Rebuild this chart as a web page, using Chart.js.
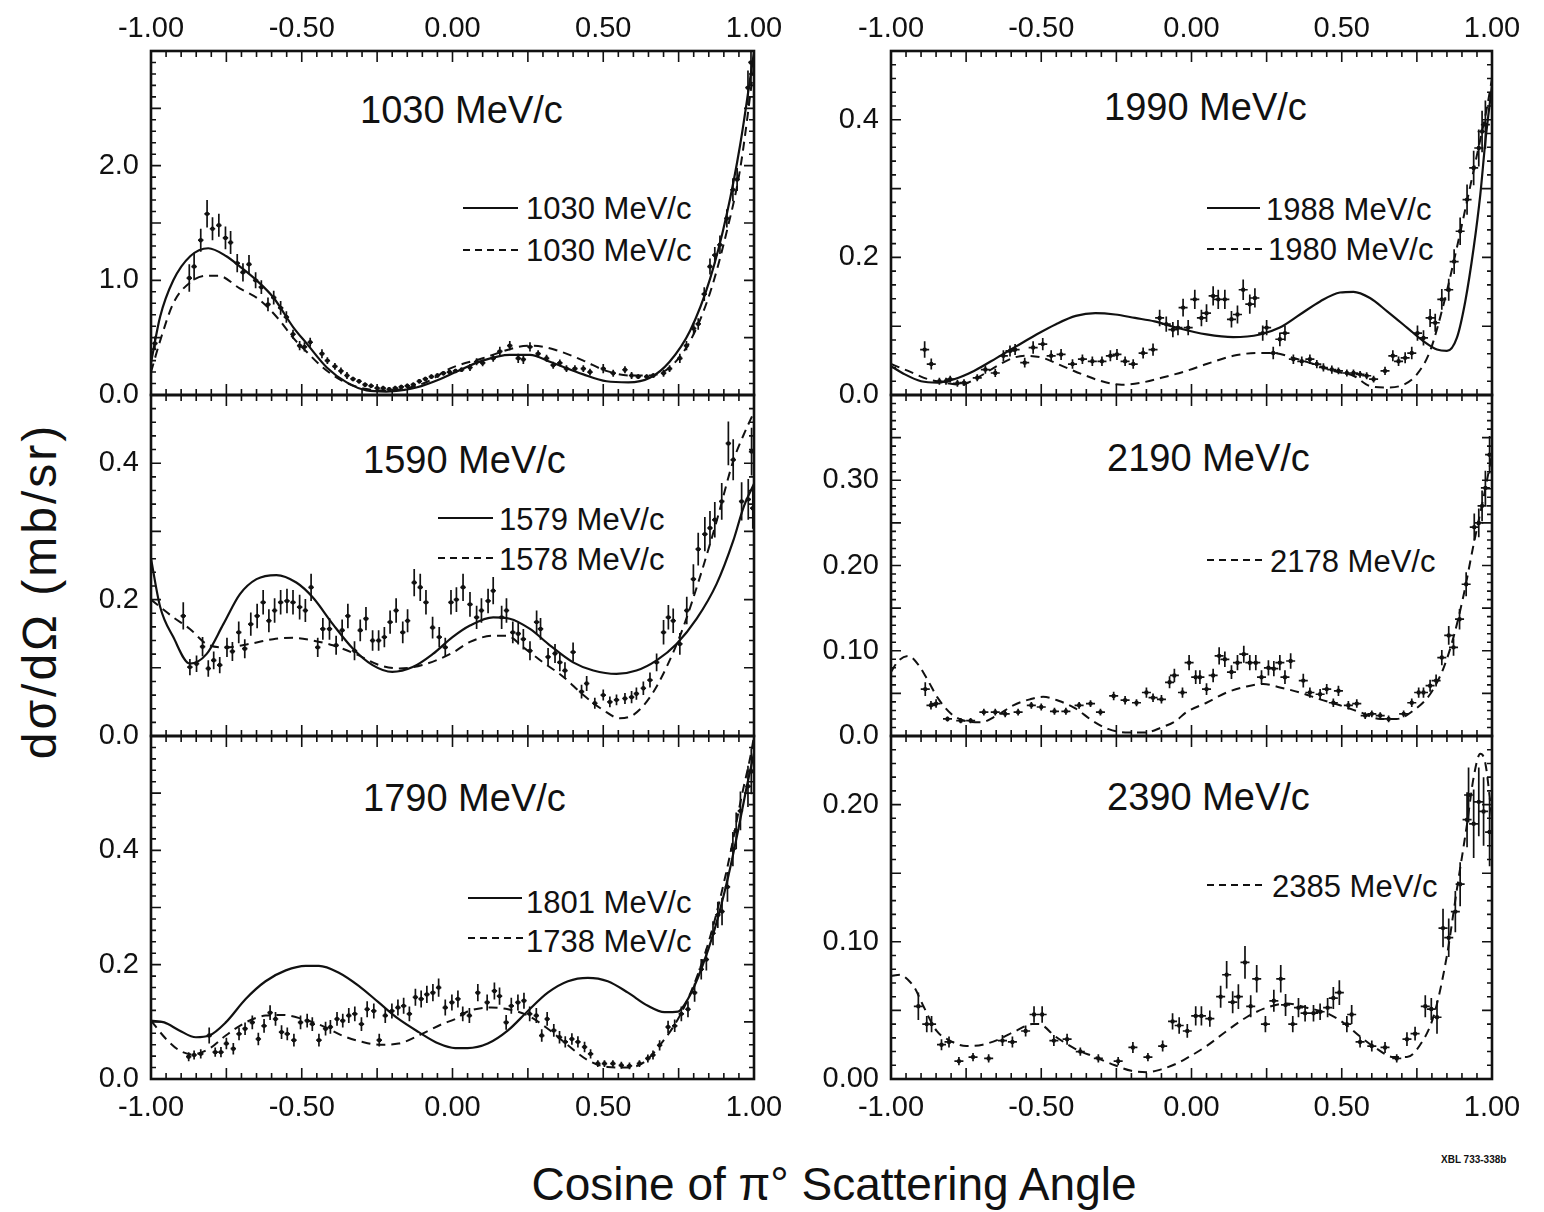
<!DOCTYPE html>
<html><head><meta charset="utf-8">
<script src="https://cdn.jsdelivr.net/npm/chart.js@4.4.1/dist/chart.umd.min.js"></script>
<style>
html,body{margin:0;padding:0;background:#fff}
#wrap{position:relative;width:1544px;height:1212px;overflow:hidden;background:#fff}
canvas{position:absolute}
.t{position:absolute;white-space:nowrap;color:#111;font-family:"Liberation Sans",Arial,sans-serif;line-height:1}
svg{position:absolute;left:0;top:0}
</style></head><body><div id="wrap">
<svg width="1544" height="1212">
 <g stroke="#111" stroke-width="2.2" fill="none">
  <line x1="463" y1="208" x2="518" y2="208"/>
  <line x1="463" y1="250" x2="522" y2="250" stroke-dasharray="7 5"/>
  <line x1="438" y1="518" x2="493" y2="518"/>
  <line x1="438" y1="558" x2="493" y2="558" stroke-dasharray="7 5"/>
  <line x1="468" y1="898" x2="522" y2="898"/>
  <line x1="468" y1="938" x2="528" y2="938" stroke-dasharray="7 5"/>
  <line x1="1207" y1="208" x2="1260" y2="208"/>
  <line x1="1207" y1="249" x2="1267" y2="249" stroke-dasharray="7 5"/>
  <line x1="1207" y1="560" x2="1265" y2="560" stroke-dasharray="7 5"/>
  <line x1="1207" y1="885" x2="1267" y2="885" stroke-dasharray="7 5"/>
 </g>
</svg>
<div class="t" style="font-size:38px;left:360px;top:91px">1030 MeV/c</div>
<div class="t" style="font-size:38px;left:363px;top:441px">1590 MeV/c</div>
<div class="t" style="font-size:38px;left:363px;top:779px">1790 MeV/c</div>
<div class="t" style="font-size:38px;left:1104px;top:88px">1990 MeV/c</div>
<div class="t" style="font-size:38px;left:1107px;top:439px">2190 MeV/c</div>
<div class="t" style="font-size:38px;left:1107px;top:778px">2390 MeV/c</div>
<div class="t" style="font-size:31px;left:526px;top:193px">1030 MeV/c</div>
<div class="t" style="font-size:31px;left:526px;top:235px">1030 MeV/c</div>
<div class="t" style="font-size:31px;left:499px;top:504px">1579 MeV/c</div>
<div class="t" style="font-size:31px;left:499px;top:544px">1578 MeV/c</div>
<div class="t" style="font-size:31px;left:526px;top:887px">1801 MeV/c</div>
<div class="t" style="font-size:31px;left:526px;top:926px">1738 MeV/c</div>
<div class="t" style="font-size:31px;left:1266px;top:194px">1988 MeV/c</div>
<div class="t" style="font-size:31px;left:1268px;top:234px">1980 MeV/c</div>
<div class="t" style="font-size:31px;left:1270px;top:546px">2178 MeV/c</div>
<div class="t" style="font-size:31px;left:1272px;top:871px">2385 MeV/c</div>
<div class="t" style="font-size:46px;left:834px;top:1161px;transform:translateX(-50%)">Cosine of π° Scattering Angle</div>
<div class="t" style="font-size:48px;left:40px;top:591px;letter-spacing:3px;transform:translate(-50%,-50%) rotate(-90deg)">dσ/dΩ (mb/sr)</div>
<div class="t" style="font-size:10px;font-weight:bold;left:1441px;top:1155px">XBL 733-338b</div>
</div>
<script>
// ---------- DATA ----------
const xTickValues = [-1, -0.5, 0, 0.5, 1];
const xTickLabels = ['-1.00', '-0.50', '0.00', '0.50', '1.00'];

// 1030 MeV/c  [cos, dsigma, err]
const tl_pts = [[-0.987,0.45,0.06],[-0.873,1.02,0.12],[-0.857,1.12,0.12],[-0.835,1.35,0.1],[-0.814,1.58,0.12],[-0.796,1.45,0.1],[-0.775,1.48,0.1],[-0.753,1.37,0.1],[-0.736,1.33,0.1],[-0.714,1.15,0.08],[-0.695,1.07,0.08],[-0.675,1.14,0.08],[-0.653,1.0,0.07],[-0.634,0.94,0.06],[-0.612,0.79,0.06],[-0.593,0.85,0.06],[-0.57,0.76,0.06],[-0.551,0.68,0.05],[-0.529,0.53,0.04],[-0.507,0.43,0.04],[-0.491,0.42,0.04],[-0.472,0.46,0.04],[-0.433,0.36,0.04],[-0.415,0.30,0.03],[-0.39,0.25,0.03],[-0.37,0.21,0.03],[-0.35,0.17,0.03],[-0.33,0.14,0.02],[-0.31,0.12,0.02],[-0.29,0.09,0.02],[-0.27,0.08,0.02],[-0.25,0.06,0.02],[-0.23,0.06,0.02],[-0.21,0.05,0.02],[-0.19,0.06,0.02],[-0.17,0.07,0.02],[-0.15,0.08,0.02],[-0.13,0.09,0.02],[-0.11,0.12,0.02],[-0.09,0.14,0.02],[-0.07,0.16,0.02],[-0.05,0.17,0.02],[-0.03,0.19,0.02],[-0.01,0.2,0.02],[0.01,0.21,0.02],[0.03,0.22,0.02],[0.058,0.24,0.03],[0.08,0.29,0.03],[0.10,0.28,0.03],[0.135,0.32,0.03],[0.157,0.38,0.04],[0.19,0.43,0.04],[0.218,0.32,0.04],[0.235,0.31,0.04],[0.257,0.42,0.04],[0.284,0.36,0.03],[0.312,0.32,0.03],[0.334,0.26,0.03],[0.356,0.28,0.03],[0.378,0.23,0.03],[0.406,0.23,0.03],[0.434,0.23,0.03],[0.456,0.2,0.03],[0.50,0.23,0.04],[0.533,0.19,0.03],[0.572,0.22,0.03],[0.594,0.17,0.03],[0.616,0.16,0.02],[0.644,0.16,0.02],[0.666,0.17,0.02],[0.70,0.19,0.03],[0.72,0.23,0.03],[0.754,0.32,0.04],[0.776,0.43,0.04],[0.80,0.58,0.05],[0.815,0.62,0.05],[0.835,0.88,0.06],[0.854,1.12,0.07],[0.87,1.22,0.07],[0.887,1.31,0.08],[0.91,1.54,0.08],[0.93,1.79,0.1],[0.944,1.88,0.1],[0.98,2.68,0.15],[0.99,2.9,0.2]];
const tl_solid = [[-1,0.28],[-0.97,0.68],[-0.926,1.0],[-0.87,1.21],[-0.81,1.28],[-0.75,1.21],[-0.705,1.12],[-0.65,1.0],[-0.594,0.85],[-0.528,0.59],[-0.484,0.45],[-0.417,0.24],[-0.351,0.11],[-0.285,0.04],[-0.22,0.03],[-0.16,0.045],[-0.12,0.065],[-0.04,0.14],[0.01,0.2],[0.1,0.3],[0.19,0.35],[0.257,0.35],[0.323,0.29],[0.434,0.18],[0.511,0.12],[0.583,0.11],[0.655,0.15],[0.72,0.29],[0.788,0.56],[0.854,1.01],[0.91,1.58],[0.954,2.18],[1.0,2.99]];
const tl_dashed = [[-1,0.2],[-0.97,0.47],[-0.926,0.8],[-0.871,0.98],[-0.816,1.04],[-0.777,1.04],[-0.706,0.93],[-0.64,0.83],[-0.573,0.65],[-0.529,0.5],[-0.485,0.38],[-0.43,0.24],[-0.37,0.13],[-0.3,0.06],[-0.22,0.04],[-0.15,0.06],[-0.08,0.12],[-0.009,0.23],[0.1,0.32],[0.22,0.42],[0.268,0.43],[0.345,0.39],[0.434,0.3],[0.51,0.21],[0.59,0.17],[0.655,0.17],[0.72,0.24],[0.788,0.47],[0.854,0.89],[0.91,1.43],[0.954,1.97],[1.0,2.87]];
const tl_yTicks = [0, 1, 2];
const tl_yLabels = ['0.0', '1.0', '2.0'];

// 1590 MeV/c
const ml_pts = [[-0.893,0.176,0.02],[-0.871,0.101,0.012],[-0.849,0.106,0.012],[-0.829,0.131,0.014],[-0.81,0.099,0.012],[-0.792,0.111,0.013],[-0.772,0.104,0.012],[-0.748,0.13,0.014],[-0.73,0.124,0.014],[-0.709,0.152,0.016],[-0.689,0.128,0.014],[-0.669,0.164,0.017],[-0.648,0.176,0.018],[-0.628,0.196,0.018],[-0.609,0.169,0.017],[-0.59,0.184,0.018],[-0.57,0.196,0.018],[-0.549,0.198,0.018],[-0.529,0.196,0.018],[-0.507,0.189,0.018],[-0.488,0.184,0.017],[-0.469,0.218,0.02],[-0.447,0.13,0.014],[-0.43,0.157,0.016],[-0.408,0.157,0.016],[-0.386,0.133,0.014],[-0.366,0.155,0.016],[-0.347,0.176,0.018],[-0.325,0.125,0.014],[-0.306,0.155,0.016],[-0.287,0.172,0.017],[-0.265,0.14,0.015],[-0.245,0.14,0.015],[-0.226,0.145,0.015],[-0.207,0.167,0.017],[-0.187,0.184,0.018],[-0.165,0.152,0.016],[-0.149,0.169,0.017],[-0.127,0.225,0.02],[-0.107,0.218,0.02],[-0.088,0.196,0.018],[-0.066,0.159,0.016],[-0.044,0.145,0.015],[-0.024,0.13,0.014],[-0.005,0.196,0.018],[0.013,0.2,0.018],[0.035,0.218,0.02],[0.058,0.193,0.018],[0.08,0.174,0.017],[0.096,0.184,0.018],[0.118,0.198,0.018],[0.135,0.213,0.02],[0.163,0.174,0.017],[0.179,0.184,0.018],[0.2,0.152,0.016],[0.218,0.15,0.016],[0.235,0.142,0.015],[0.257,0.125,0.014],[0.279,0.167,0.017],[0.292,0.157,0.016],[0.317,0.116,0.013],[0.34,0.121,0.014],[0.356,0.108,0.013],[0.373,0.096,0.012],[0.4,0.123,0.014],[0.428,0.065,0.01],[0.445,0.077,0.011],[0.472,0.048,0.008],[0.5,0.06,0.008],[0.522,0.05,0.008],[0.544,0.053,0.008],[0.572,0.055,0.008],[0.594,0.057,0.009],[0.61,0.062,0.009],[0.633,0.07,0.01],[0.655,0.082,0.011],[0.677,0.108,0.013],[0.7,0.152,0.018],[0.716,0.174,0.018],[0.732,0.169,0.018],[0.754,0.135,0.016],[0.777,0.184,0.02],[0.799,0.23,0.022],[0.815,0.274,0.024],[0.837,0.296,0.025],[0.854,0.305,0.025],[0.87,0.317,0.026],[0.893,0.344,0.027],[0.915,0.429,0.032],[0.931,0.405,0.03],[0.959,0.344,0.028],[0.981,0.347,0.03],[0.992,0.417,0.035],[0.996,0.334,0.03]];
const ml_solid = [[-1,0.26],[-0.97,0.19],[-0.926,0.145],[-0.871,0.106],[-0.816,0.12],[-0.76,0.164],[-0.705,0.208],[-0.65,0.23],[-0.584,0.236],[-0.518,0.225],[-0.463,0.203],[-0.397,0.164],[-0.33,0.128],[-0.265,0.104],[-0.2,0.094],[-0.132,0.101],[-0.066,0.12],[0.0,0.145],[0.058,0.162],[0.135,0.174],[0.19,0.172],[0.257,0.157],[0.323,0.133],[0.4,0.108],[0.467,0.096],[0.544,0.091],[0.61,0.096],[0.677,0.111],[0.743,0.135],[0.81,0.172],[0.876,0.223],[0.931,0.286],[0.965,0.335],[1.0,0.37]];
const ml_dashed = [[-1,0.2],[-0.926,0.174],[-0.871,0.157],[-0.816,0.135],[-0.75,0.13],[-0.673,0.135],[-0.595,0.142],[-0.529,0.144],[-0.463,0.14],[-0.397,0.133],[-0.32,0.12],[-0.243,0.104],[-0.176,0.099],[-0.1,0.104],[0.0,0.122],[0.058,0.138],[0.135,0.147],[0.18,0.147],[0.235,0.13],[0.3,0.108],[0.367,0.087],[0.434,0.06],[0.5,0.038],[0.555,0.026],[0.6,0.031],[0.655,0.057],[0.71,0.101],[0.765,0.159],[0.82,0.232],[0.876,0.315],[0.931,0.403],[0.965,0.441],[1.0,0.475]];
const ml_yTicks = [0, 0.2, 0.4];
const ml_yLabels = ['0.0', '0.2', '0.4'];

// 1790 MeV/c
const bl_pts = [[-0.875,0.039,0.008],[-0.857,0.042,0.008],[-0.835,0.044,0.008],[-0.807,0.076,0.014],[-0.787,0.047,0.008],[-0.768,0.047,0.009],[-0.75,0.062,0.01],[-0.727,0.053,0.01],[-0.708,0.079,0.011],[-0.688,0.088,0.011],[-0.664,0.099,0.012],[-0.644,0.07,0.011],[-0.625,0.093,0.012],[-0.605,0.116,0.013],[-0.587,0.105,0.012],[-0.567,0.082,0.012],[-0.548,0.079,0.011],[-0.526,0.068,0.011],[-0.504,0.099,0.012],[-0.482,0.102,0.012],[-0.465,0.096,0.012],[-0.443,0.068,0.011],[-0.421,0.088,0.012],[-0.405,0.091,0.012],[-0.383,0.105,0.012],[-0.364,0.102,0.012],[-0.344,0.111,0.013],[-0.324,0.114,0.013],[-0.302,0.096,0.012],[-0.283,0.122,0.014],[-0.261,0.119,0.013],[-0.243,0.068,0.011],[-0.223,0.111,0.013],[-0.201,0.119,0.013],[-0.181,0.125,0.014],[-0.162,0.128,0.014],[-0.143,0.114,0.013],[-0.123,0.143,0.015],[-0.104,0.14,0.015],[-0.085,0.148,0.015],[-0.065,0.151,0.015],[-0.046,0.16,0.016],[-0.024,0.125,0.014],[-0.002,0.134,0.014],[0.018,0.14,0.015],[0.034,0.114,0.013],[0.056,0.111,0.013],[0.084,0.151,0.015],[0.115,0.134,0.014],[0.139,0.154,0.015],[0.156,0.145,0.015],[0.178,0.099,0.013],[0.195,0.128,0.014],[0.217,0.134,0.014],[0.237,0.137,0.014],[0.256,0.114,0.013],[0.278,0.111,0.013],[0.296,0.076,0.011],[0.314,0.105,0.012],[0.336,0.085,0.011],[0.355,0.073,0.011],[0.374,0.065,0.01],[0.396,0.07,0.01],[0.416,0.065,0.01],[0.438,0.056,0.009],[0.458,0.044,0.008],[0.482,0.027,0.006],[0.504,0.027,0.006],[0.532,0.027,0.006],[0.56,0.024,0.006],[0.587,0.023,0.006],[0.62,0.027,0.006],[0.648,0.036,0.007],[0.665,0.042,0.008],[0.687,0.059,0.009],[0.715,0.091,0.011],[0.737,0.093,0.011],[0.759,0.114,0.013],[0.781,0.122,0.014],[0.803,0.151,0.016],[0.825,0.192,0.018],[0.842,0.209,0.019],[0.864,0.255,0.021],[0.88,0.287,0.023],[0.894,0.293,0.024],[0.912,0.336,0.026],[0.93,0.402,0.03],[0.941,0.434,0.032],[0.955,0.469,0.034],[0.98,0.512,0.036],[0.991,0.538,0.04]];
const bl_solid = [[-1,0.102],[-0.956,0.099],[-0.906,0.085],[-0.851,0.073],[-0.807,0.076],[-0.752,0.099],[-0.686,0.14],[-0.62,0.171],[-0.553,0.19],[-0.487,0.198],[-0.443,0.198],[-0.377,0.186],[-0.311,0.163],[-0.245,0.134],[-0.179,0.105],[-0.112,0.082],[-0.046,0.062],[0.009,0.054],[0.05,0.054],[0.117,0.062],[0.184,0.085],[0.25,0.119],[0.316,0.151],[0.383,0.171],[0.449,0.177],[0.515,0.171],[0.582,0.151],[0.648,0.128],[0.703,0.117],[0.748,0.118],[0.781,0.14],[0.825,0.192],[0.869,0.261],[0.914,0.353],[0.947,0.434],[0.975,0.509],[1.0,0.57]];
const bl_dashed = [[-1,0.102],[-0.95,0.07],[-0.906,0.05],[-0.862,0.043],[-0.807,0.053],[-0.752,0.076],[-0.686,0.099],[-0.62,0.111],[-0.564,0.112],[-0.498,0.105],[-0.432,0.093],[-0.366,0.076],[-0.3,0.065],[-0.245,0.06],[-0.179,0.062],[-0.101,0.079],[-0.035,0.096],[0.009,0.105],[0.05,0.118],[0.128,0.125],[0.184,0.122],[0.25,0.111],[0.316,0.088],[0.383,0.059],[0.449,0.033],[0.515,0.021],[0.582,0.02],[0.637,0.03],[0.692,0.062],[0.748,0.105],[0.803,0.168],[0.858,0.255],[0.914,0.376],[0.958,0.492],[0.991,0.572],[1.0,0.6]];
const bl_yTicks = [0, 0.2, 0.4];
const bl_yLabels = ['0.0', '0.2', '0.4'];

// 1990 MeV/c
const tr_pts = [[-0.888,0.066,0.012],[-0.866,0.045,0.008],[-0.839,0.02,0.005],[-0.817,0.02,0.005],[-0.803,0.023,0.005],[-0.779,0.017,0.005],[-0.757,0.018,0.005],[-0.713,0.025,0.005],[-0.686,0.037,0.006],[-0.653,0.032,0.006],[-0.626,0.057,0.008],[-0.604,0.064,0.008],[-0.587,0.066,0.008],[-0.555,0.047,0.007],[-0.527,0.069,0.009],[-0.495,0.074,0.009],[-0.467,0.057,0.008],[-0.434,0.059,0.008],[-0.396,0.045,0.007],[-0.363,0.052,0.007],[-0.33,0.049,0.007],[-0.298,0.049,0.007],[-0.27,0.057,0.008],[-0.248,0.059,0.008],[-0.221,0.049,0.007],[-0.194,0.045,0.007],[-0.161,0.061,0.008],[-0.128,0.066,0.009],[-0.106,0.112,0.012],[-0.084,0.103,0.011],[-0.062,0.095,0.011],[-0.045,0.098,0.011],[-0.028,0.127,0.013],[-0.011,0.098,0.011],[0.011,0.139,0.014],[0.033,0.112,0.012],[0.05,0.119,0.013],[0.072,0.144,0.014],[0.089,0.139,0.014],[0.111,0.139,0.014],[0.133,0.11,0.012],[0.153,0.117,0.013],[0.172,0.153,0.015],[0.194,0.132,0.014],[0.211,0.141,0.014],[0.237,0.09,0.011],[0.25,0.098,0.011],[0.272,0.061,0.009],[0.294,0.081,0.01],[0.311,0.09,0.011],[0.339,0.052,0.007],[0.367,0.049,0.007],[0.394,0.052,0.007],[0.417,0.045,0.006],[0.439,0.04,0.006],[0.467,0.037,0.006],[0.489,0.035,0.005],[0.517,0.032,0.005],[0.539,0.032,0.005],[0.561,0.03,0.005],[0.583,0.028,0.005],[0.606,0.023,0.005],[0.644,0.035,0.006],[0.67,0.057,0.008],[0.689,0.049,0.007],[0.711,0.054,0.008],[0.733,0.061,0.009],[0.752,0.09,0.011],[0.772,0.083,0.011],[0.794,0.112,0.013],[0.811,0.105,0.013],[0.833,0.139,0.015],[0.856,0.153,0.016],[0.874,0.194,0.018],[0.894,0.238,0.02],[0.917,0.284,0.022],[0.939,0.33,0.025],[0.956,0.359,0.027],[0.967,0.383,0.03],[0.978,0.393,0.035]];
const tr_solid = [[-1,0.042],[-0.954,0.03],[-0.9,0.02],[-0.845,0.018],[-0.79,0.023],[-0.724,0.035],[-0.648,0.054],[-0.582,0.071],[-0.516,0.088],[-0.451,0.103],[-0.385,0.115],[-0.32,0.119],[-0.254,0.117],[-0.188,0.112],[-0.123,0.107],[-0.051,0.098],[0.05,0.088],[0.139,0.084],[0.228,0.088],[0.294,0.098],[0.361,0.117],[0.428,0.136],[0.494,0.149],[0.539,0.15],[0.594,0.141],[0.65,0.122],[0.717,0.098],[0.772,0.078],[0.817,0.066],[0.85,0.064],[0.883,0.083],[0.911,0.136],[0.939,0.214],[0.961,0.291],[0.978,0.369],[1.0,0.45]];
const tr_dashed = [[-1,0.045],[-0.943,0.035],[-0.877,0.023],[-0.823,0.018],[-0.768,0.015],[-0.713,0.025],[-0.648,0.042],[-0.593,0.054],[-0.549,0.057],[-0.495,0.054],[-0.429,0.042],[-0.363,0.03],[-0.298,0.02],[-0.232,0.015],[-0.166,0.018],[-0.1,0.025],[-0.017,0.035],[0.05,0.045],[0.139,0.057],[0.217,0.061],[0.272,0.061],[0.339,0.054],[0.406,0.045],[0.472,0.035],[0.539,0.028],[0.594,0.013],[0.65,0.011],[0.706,0.015],[0.75,0.03],[0.794,0.064],[0.839,0.132],[0.883,0.214],[0.917,0.282],[0.95,0.349],[0.983,0.417],[1.0,0.46]];
const tr_yTicks = [0, 0.2, 0.4];
const tr_yLabels = ['0.0', '0.2', '0.4'];

// 2190 MeV/c
const mr_pts = [[-0.886,0.055,0.008],[-0.867,0.036,0.005],[-0.85,0.038,0.005],[-0.812,0.02,0.003],[-0.768,0.018,0.003],[-0.735,0.018,0.003],[-0.691,0.028,0.004],[-0.653,0.028,0.004],[-0.62,0.026,0.004],[-0.577,0.028,0.004],[-0.533,0.036,0.004],[-0.5,0.034,0.004],[-0.456,0.029,0.004],[-0.418,0.029,0.004],[-0.374,0.036,0.004],[-0.336,0.038,0.004],[-0.303,0.028,0.004],[-0.259,0.047,0.005],[-0.221,0.042,0.005],[-0.183,0.039,0.004],[-0.15,0.051,0.006],[-0.128,0.045,0.005],[-0.1,0.043,0.005],[-0.073,0.063,0.007],[-0.057,0.071,0.008],[-0.03,0.051,0.006],[-0.008,0.086,0.009],[0.014,0.069,0.008],[0.028,0.069,0.008],[0.05,0.055,0.007],[0.072,0.071,0.008],[0.092,0.094,0.01],[0.111,0.09,0.009],[0.133,0.075,0.008],[0.153,0.086,0.009],[0.174,0.096,0.01],[0.194,0.086,0.009],[0.214,0.086,0.009],[0.233,0.069,0.008],[0.256,0.08,0.009],[0.274,0.079,0.009],[0.294,0.086,0.009],[0.311,0.069,0.008],[0.33,0.088,0.009],[0.372,0.065,0.008],[0.394,0.051,0.006],[0.428,0.049,0.006],[0.45,0.055,0.006],[0.472,0.039,0.005],[0.489,0.053,0.006],[0.522,0.036,0.005],[0.55,0.038,0.005],[0.578,0.024,0.004],[0.6,0.026,0.004],[0.628,0.024,0.004],[0.656,0.02,0.004],[0.706,0.026,0.004],[0.733,0.039,0.005],[0.756,0.051,0.006],[0.772,0.051,0.006],[0.794,0.059,0.007],[0.814,0.065,0.007],[0.833,0.092,0.009],[0.856,0.118,0.011],[0.872,0.104,0.01],[0.892,0.137,0.012],[0.914,0.178,0.014],[0.941,0.245,0.016],[0.956,0.25,0.017],[0.967,0.27,0.018],[0.978,0.291,0.02],[0.992,0.33,0.022]];
const mr_dashed = [[-1,0.075],[-0.976,0.088],[-0.943,0.094],[-0.91,0.084],[-0.877,0.065],[-0.845,0.045],[-0.8,0.026],[-0.757,0.018],[-0.702,0.016],[-0.648,0.024],[-0.593,0.036],[-0.538,0.043],[-0.494,0.046],[-0.44,0.041],[-0.385,0.032],[-0.33,0.018],[-0.276,0.008],[-0.21,0.004],[-0.155,0.004],[-0.1,0.01],[-0.051,0.018],[-0.017,0.028],[0.05,0.039],[0.117,0.051],[0.183,0.058],[0.239,0.061],[0.294,0.057],[0.361,0.051],[0.428,0.043],[0.494,0.036],[0.561,0.028],[0.628,0.02],[0.683,0.02],[0.739,0.03],[0.794,0.049],[0.839,0.08],[0.872,0.116],[0.906,0.166],[0.939,0.225],[0.972,0.28],[1.0,0.33]];
const mr_yTicks = [0, 0.1, 0.2, 0.3];
const mr_yLabels = ['0.0', '0.10', '0.20', '0.30'];

// 2390 MeV/c
const br_pts = [[-0.909,0.053,0.01],[-0.881,0.04,0.006],[-0.865,0.04,0.006],[-0.832,0.025,0.004],[-0.807,0.027,0.004],[-0.774,0.013,0.003],[-0.727,0.016,0.003],[-0.675,0.015,0.003],[-0.629,0.028,0.004],[-0.596,0.027,0.004],[-0.552,0.035,0.004],[-0.524,0.047,0.006],[-0.497,0.047,0.006],[-0.458,0.028,0.004],[-0.414,0.029,0.004],[-0.37,0.02,0.003],[-0.31,0.015,0.003],[-0.244,0.013,0.003],[-0.195,0.023,0.004],[-0.145,0.016,0.003],[-0.096,0.024,0.004],[-0.063,0.042,0.006],[-0.041,0.039,0.006],[-0.014,0.035,0.005],[0.014,0.046,0.007],[0.033,0.046,0.007],[0.061,0.044,0.006],[0.097,0.06,0.008],[0.117,0.076,0.01],[0.137,0.056,0.008],[0.156,0.06,0.009],[0.178,0.085,0.012],[0.197,0.053,0.008],[0.217,0.073,0.01],[0.246,0.04,0.006],[0.274,0.057,0.008],[0.297,0.073,0.01],[0.313,0.054,0.008],[0.337,0.04,0.006],[0.356,0.052,0.007],[0.378,0.048,0.006],[0.406,0.048,0.006],[0.428,0.049,0.006],[0.453,0.052,0.007],[0.472,0.059,0.008],[0.492,0.063,0.009],[0.517,0.04,0.006],[0.533,0.047,0.007],[0.561,0.027,0.004],[0.6,0.024,0.004],[0.644,0.023,0.004],[0.683,0.015,0.003],[0.717,0.029,0.005],[0.744,0.033,0.005],[0.778,0.053,0.008],[0.798,0.051,0.008],[0.817,0.045,0.012],[0.837,0.11,0.014],[0.856,0.103,0.014],[0.878,0.122,0.015],[0.894,0.142,0.016],[0.917,0.189,0.02],[0.922,0.207,0.02],[0.939,0.186,0.025],[0.956,0.202,0.025],[0.972,0.195,0.025],[0.992,0.18,0.025]];
const br_dashed = [[-1,0.075],[-0.97,0.076],[-0.942,0.072],[-0.92,0.066],[-0.892,0.053],[-0.848,0.035],[-0.804,0.028],[-0.749,0.024],[-0.695,0.025],[-0.64,0.029],[-0.585,0.035],[-0.53,0.04],[-0.508,0.04],[-0.453,0.031],[-0.387,0.022],[-0.321,0.016],[-0.255,0.01],[-0.2,0.006],[-0.145,0.005],[-0.101,0.007],[-0.052,0.011],[-0.017,0.015],[0.05,0.024],[0.117,0.035],[0.183,0.045],[0.25,0.052],[0.317,0.055],[0.383,0.052],[0.45,0.048],[0.506,0.041],[0.561,0.031],[0.617,0.022],[0.672,0.016],[0.717,0.016],[0.761,0.025],[0.806,0.046],[0.85,0.09],[0.883,0.138],[0.917,0.186],[0.939,0.22],[0.961,0.237],[0.978,0.23],[1.0,0.19]];
const br_yTicks = [0, 0.1, 0.2];
const br_yLabels = ['0.00', '0.10', '0.20'];

// ---------- RENDERING ----------
const INK = '#111';
const FONT = '"Liberation Sans", Arial, sans-serif';

const panels = [
  {pts: tl_pts, solid: tl_solid, dashed: tl_dashed, yMax: 3.0, yTicks: tl_yTicks, yLabels: tl_yLabels, yMinor: 0.1, yMajor: 0.5, rect: [151, 51, 754, 395], xPos: 'top', xerr: 0.009},
  {pts: ml_pts, solid: ml_solid, dashed: ml_dashed, yMax: 0.5, yTicks: ml_yTicks, yLabels: ml_yLabels, yMinor: 0.02, yMajor: 0.1, rect: [151, 395, 754, 736], xPos: null, xerr: 0.009},
  {pts: bl_pts, solid: bl_solid, dashed: bl_dashed, yMax: 0.6, yTicks: bl_yTicks, yLabels: bl_yLabels, yMinor: 0.02, yMajor: 0.1, rect: [151, 736, 754, 1079], xPos: 'bottom', xerr: 0.009},
  {pts: tr_pts, solid: tr_solid, dashed: tr_dashed, yMax: 0.5, yTicks: tr_yTicks, yLabels: tr_yLabels, yMinor: 0.02, yMajor: 0.1, rect: [891, 51, 1492, 395], xPos: 'top', xerr: 0.015},
  {pts: mr_pts, solid: null, dashed: mr_dashed, yMax: 0.4, yTicks: mr_yTicks, yLabels: mr_yLabels, yMinor: 0.01, yMajor: 0.05, rect: [891, 395, 1492, 736], xPos: null, xerr: 0.015},
  {pts: br_pts, solid: null, dashed: br_dashed, yMax: 0.25, yTicks: br_yTicks, yLabels: br_yLabels, yMinor: 0.01, yMajor: 0.05, rect: [891, 736, 1492, 1079], xPos: 'bottom', xerr: 0.015}
];

const framePlugin = {
  id: 'frame',
  afterDraw(chart, args, o) {
    const {ctx, chartArea: a, scales: {x, y}} = chart;
    ctx.save();
    ctx.strokeStyle = INK;
    ctx.lineWidth = 1.6;
    ctx.beginPath();
    for (let i = 0; i <= 40; i++) {
      const px = x.getPixelForValue(-1 + i * 0.05);
      const L = i % 5 === 0 ? 11 : 6;
      ctx.moveTo(px, a.top); ctx.lineTo(px, a.top + L);
      ctx.moveTo(px, a.bottom); ctx.lineTo(px, a.bottom - L);
    }
    const n = Math.round(o.yMax / o.yMinor), m = Math.round(o.yMajor / o.yMinor);
    for (let i = 0; i <= n; i++) {
      const py = y.getPixelForValue(i * o.yMinor);
      const L = i % m === 0 ? 10 : 5;
      ctx.moveTo(a.left, py); ctx.lineTo(a.left + L, py);
      ctx.moveTo(a.right, py); ctx.lineTo(a.right - L, py);
    }
    ctx.stroke();
    ctx.lineWidth = 2.6;
    ctx.strokeRect(a.left, a.top, a.right - a.left, a.bottom - a.top);
    ctx.restore();
  }
};

const errPlugin = {
  id: 'errbars',
  afterDatasetsDraw(chart, args, o) {
    const {ctx, chartArea: a, scales: {x, y}} = chart;
    const ds = chart.data.datasets[0];
    ctx.save();
    ctx.beginPath(); ctx.rect(a.left, a.top, a.right - a.left, a.bottom - a.top); ctx.clip();
    ctx.strokeStyle = INK; ctx.lineWidth = 1.7;
    ctx.beginPath();
    ds.data.forEach(p => {
      const px = x.getPixelForValue(p.x), py = y.getPixelForValue(p.y);
      ctx.moveTo(px, y.getPixelForValue(p.y - p.e)); ctx.lineTo(px, y.getPixelForValue(p.y + p.e));
      ctx.moveTo(x.getPixelForValue(p.x - o.xerr), py); ctx.lineTo(x.getPixelForValue(p.x + o.xerr), py);
    });
    ctx.stroke();
    ctx.restore();
  }
};

const padL = 130, padR = 50, padT = 60, padB = 60;
panels.forEach(p => {
  const [L, T, R, B] = p.rect;
  const cv = document.createElement('canvas');
  cv.width = (R - L) + padL + padR; cv.height = (B - T) + padT + padB;
  cv.style.left = (L - padL) + 'px'; cv.style.top = (T - padT) + 'px';
  cv.style.width = cv.width + 'px'; cv.style.height = cv.height + 'px';
  document.getElementById('wrap').appendChild(cv);
  const datasets = [{label: 'data', data: p.pts.map(q => ({x: q[0], y: q[1], e: q[2]})), pointRadius: 2.2, pointBackgroundColor: INK, pointBorderWidth: 0, order: 0}];
  if (p.solid) datasets.push({label: 'solid', data: p.solid.map(q => ({x: q[0], y: q[1]})), showLine: true, borderColor: INK, borderWidth: 2.2, pointRadius: 0, cubicInterpolationMode: 'monotone', order: 1});
  datasets.push({label: 'dashed', data: p.dashed.map(q => ({x: q[0], y: q[1]})), showLine: true, borderColor: INK, borderWidth: 2, borderDash: [9, 6], pointRadius: 0, cubicInterpolationMode: 'monotone', order: 1});
  new Chart(cv.getContext('2d'), {
    type: 'scatter',
    data: {datasets},
    options: {
      responsive: false, animation: false, devicePixelRatio: 1, events: [],
      layout: {padding: {left: 0, right: padR, top: p.xPos === 'top' ? 0 : padT, bottom: p.xPos === 'bottom' ? 0 : padB}},
      plugins: {legend: {display: false}, tooltip: {enabled: false},
        frame: {yMax: p.yMax, yMinor: p.yMinor, yMajor: p.yMajor}, errbars: {xerr: p.xerr}},
      scales: {
        x: {type: 'linear', min: -1, max: 1, position: p.xPos || 'bottom', display: !!p.xPos,
          grid: {display: false, drawTicks: false}, border: {display: false},
          ticks: {autoSkip: false, maxRotation: 0, minRotation: 0, padding: p.xPos === 'top' ? 5 : 12, color: INK, font: {family: FONT, size: 29}, callback: (v, i) => xTickLabels[i]},
          afterBuildTicks: s => { s.ticks = xTickValues.map(v => ({value: v})); },
          afterFit: s => { s.height = p.xPos ? (p.xPos === 'top' ? padT : padB) : 0; s.paddingLeft = 0; s.paddingRight = 0; }},
        y: {type: 'linear', min: 0, max: p.yMax, position: 'left',
          grid: {display: false, drawTicks: false}, border: {display: false},
          ticks: {padding: 12, color: INK, font: {family: FONT, size: 29}, callback: (v, i) => p.yLabels[i]},
          afterBuildTicks: s => { s.ticks = p.yTicks.map(v => ({value: v})); },
          afterFit: s => { s.width = padL; s.paddingTop = 0; s.paddingBottom = 0; }}
      }
    },
    plugins: [framePlugin, errPlugin]
  });
});
</script>
</body></html>
